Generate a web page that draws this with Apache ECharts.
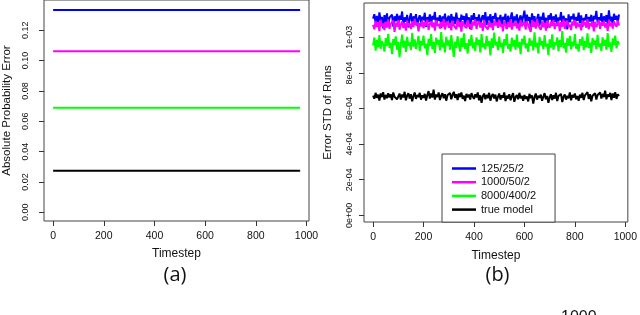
<!DOCTYPE html>
<html>
<head>
<meta charset="utf-8">
<script src="https://cdn.jsdelivr.net/npm/echarts@6/dist/echarts.min.js"></script>
<style>
html,body{margin:0;padding:0;background:#fff;}
#c{width:640px;height:315px;}
</style>
</head>
<body>
<div id="c"></div>
<script>
// ---------- DATA ----------
var seriesNames = ['125/25/2', '1000/50/2', '8000/400/2', 'true model'];
var seriesColors = ['#0000ff', '#ff00ff', '#00ff00', '#000000'];

// panel (a): absolute probability error, constant over timesteps
var timestepsA = [0, 975];
var errA_125 = [0.1333, 0.1333];
var errA_1000 = [0.1061, 0.1061];
var errA_8000 = [0.0689, 0.0689];
var errA_true = [0.0274, 0.0274];

// panel (b): error STD of runs, in units of 1e-6
var timestepsB = [0,5,10,15,20,25,30,35,40,45,50,55,60,65,70,75,80,85,90,95,
  100,105,110,115,120,125,130,135,140,145,150,155,160,165,170,175,180,185,190,195,
  200,205,210,215,220,225,230,235,240,245,250,255,260,265,270,275,280,285,290,295,
  300,305,310,315,320,325,330,335,340,345,350,355,360,365,370,375,380,385,390,395,
  400,405,410,415,420,425,430,435,440,445,450,455,460,465,470,475,480,485,490,495,
  500,505,510,515,520,525,530,535,540,545,550,555,560,565,570,575,580,585,590,595,
  600,605,610,615,620,625,630,635,640,645,650,655,660,665,670,675,680,685,690,695,
  700,705,710,715,720,725,730,735,740,745,750,755,760,765,770,775,780,785,790,795,
  800,805,810,815,820,825,830,835,840,845,850,855,860,865,870,875,880,885,890,895,
  900,905,910,915,920,925,930,935,940,945,950,955,960,965,970,975];
var stdB_125 = [1105,1130,1080,1120,1065,1140,1095,1115,1050,1125,1085,1135,1070,1110,1100,1128,1060,1118,1090,1132,
  1075,1122,1098,1145,1068,1112,1088,1126,1055,1108,1135,1072,1118,1092,1130,1064,1104,1124,1082,1116,
  1096,1138,1058,1114,1086,1129,1070,1120,1100,1142,1066,1110,1094,1124,1052,1117,1089,1133,1078,1106,
  1121,1062,1131,1093,1115,1074,1139,1087,1109,1057,1127,1099,1119,1071,1134,1084,1112,1046,1123,1097,
  1136,1079,1113,1091,1128,1063,1107,1125,1081,1141,1069,1116,1095,1130,1058,1119,1103,1137,1076,1111,
  1090,1126,1067,1114,1098,1132,1048,1121,1085,1108,1140,1073,1117,1094,1129,1061,1105,1123,1083,1115,
  1150,1077,1127,1092,1113,1056,1134,1088,1119,1071,1104,1131,1066,1116,1097,1138,1080,1110,1052,1124,
  1099,1135,1074,1118,1087,1128,1063,1112,1095,1142,1070,1121,1090,1106,1045,1129,1084,1117,1102,1133,
  1068,1115,1093,1139,1078,1123,1059,1109,1096,1130,1072,1114,1089,1126,1060,1120,1101,1148,1082,1113,
  1094,1136,1065,1118,1087,1125,1075,1152,1091,1116,1070,1132,1099,1121,1084,1128];
var stdB_1000 = [1070,1045,1092,1058,1085,1035,1098,1062,1078,1040,1088,1055,1101,1048,1075,1066,1094,1030,1082,1060,
  1097,1043,1072,1089,1052,1080,1038,1095,1064,1077,1047,1090,1057,1103,1068,1084,1033,1079,1061,1093,
  1050,1086,1065,1099,1041,1074,1091,1056,1083,1037,1096,1063,1076,1049,1087,1059,1104,1044,1073,1090,
  1054,1081,1039,1094,1067,1078,1046,1100,1060,1085,1032,1091,1069,1079,1051,1097,1058,1074,1042,1088,
  1066,1102,1048,1077,1092,1055,1083,1036,1098,1063,1071,1045,1089,1057,1080,1040,1095,1067,1084,1053,
  1099,1061,1075,1034,1093,1070,1047,1086,1058,1101,1043,1081,1064,1090,1050,1078,1038,1096,1062,1073,
  1087,1044,1092,1068,1079,1031,1097,1059,1084,1049,1103,1065,1076,1042,1090,1056,1082,1037,1094,1071,
  1053,1088,1063,1098,1046,1080,1067,1091,1035,1085,1060,1100,1048,1077,1093,1057,1072,1041,1089,1066,
  1096,1050,1083,1061,1074,1039,1095,1069,1086,1054,1102,1045,1079,1064,1091,1033,1087,1058,1076,1097,
  1047,1084,1068,1093,1055,1078,1036,1099,1062,1081,1049,1090,1071,1059,1094,1066];
var stdB_8000 = [955,1000,925,985,945,1012,935,978,960,920,995,950,1020,940,970,905,990,958,1005,930,
  975,888,962,1015,942,982,918,1002,952,972,928,1025,948,988,935,968,1008,922,980,956,
  1010,938,965,900,992,950,1018,933,975,912,998,960,985,926,1030,944,970,915,1003,955,
  982,930,1012,948,890,976,940,1006,958,920,995,946,1022,934,968,908,988,952,1014,938,
  972,924,1000,958,986,915,1018,944,966,932,1008,950,980,898,994,940,1026,954,975,928,
  1004,946,970,912,990,955,1020,936,962,920,998,948,984,930,1015,942,974,905,992,960,
  1010,938,966,918,996,952,982,926,1028,944,970,910,1002,956,978,934,1012,948,964,900,
  988,942,1016,930,972,956,1000,922,984,946,1035,938,968,914,994,952,1008,932,976,950,
  1018,936,962,920,990,954,1004,928,980,944,1022,940,970,912,996,958,982,934,1014,948,
  966,924,1000,952,986,930,1024,946,972,918,994,956,1010,938,978,960];
var stdB_true = [672,655,688,660,678,645,684,664,692,650,676,658,686,662,680,648,690,666,674,652,
  668,684,650,678,662,694,646,672,686,656,680,640,670,690,654,676,664,688,650,674,
  660,682,645,676,698,656,684,662,706,650,678,664,690,648,672,686,658,680,644,674,
  666,688,652,676,694,660,680,648,684,664,690,654,672,642,682,662,678,650,686,668,
  654,680,662,690,646,674,632,668,684,652,676,658,688,644,670,682,656,678,640,666,
  684,650,674,660,690,642,672,656,680,646,668,686,638,664,676,652,688,658,670,644,
  676,654,668,640,682,658,674,628,664,684,650,672,660,678,644,666,686,652,670,632,
  662,680,648,674,656,688,642,670,660,682,636,666,678,650,672,658,690,646,676,662,
  684,652,670,644,678,660,688,648,674,664,692,654,680,640,672,662,686,650,676,668,
  690,656,682,664,700,652,678,666,688,648,684,660,692,654,680,670];

// ticks
var xTicks = [0, 200, 400, 600, 800, 1000];
var xTickLabels = ['0', '200', '400', '600', '800', '1000'];
var yTicksA = [0, 0.02, 0.04, 0.06, 0.08, 0.10, 0.12];
var yTickLabelsA = ['0.00', '0.02', '0.04', '0.06', '0.08', '0.10', '0.12'];
var yTicksB = [0, 200, 400, 600, 800, 1000];
var yTickLabelsB = ['0e+00', '2e-04', '4e-04', '6e-04', '8e-04', '1e-03'];

// texts
var xAxisTitle = 'Timestep';
var yTitleA = 'Absolute Probability Error';
var yTitleB = 'Error STD of Runs';
var panelA = '(a)';
var panelB = '(b)';
var fragmentText = '1000';

// ---------- CHART ----------
function pairs(xs, ys) { return xs.map(function (x, i) { return [x, ys[i]]; }); }
function lookup(ticks, labels) {
  return function (v) {
    for (var i = 0; i < ticks.length; i++) { if (Math.abs(ticks[i] - v) < 1e-6) return labels[i]; }
    return '';
  };
}
var FONT = 'Liberation Sans';

function xAxisCfg(idx, nameGap, margin) {
  return {
    type: 'value', gridIndex: idx, min: -36, max: 1010,
    name: xAxisTitle, nameLocation: 'middle', nameGap: nameGap,
    nameTextStyle: { fontFamily: FONT, fontSize: 12, color: '#111' },
    axisLine: { show: false, onZero: false },
    splitLine: { show: false },
    axisTick: { show: true, inside: false, length: 5, customValues: xTicks, lineStyle: { color: '#333' } },
    axisLabel: { customValues: xTicks, fontFamily: FONT, fontSize: 10.5, color: '#111', margin: margin,
      formatter: lookup(xTicks, xTickLabels) }
  };
}

var option = {
  animation: false,
  backgroundColor: '#fff',
  grid: [
    { left: 41, top: -1, width: 268, height: 222, show: true, borderColor: '#444', borderWidth: 1, containLabel: false },
    { left: 364, top: 3, width: 268, height: 219, show: true, borderColor: '#444', borderWidth: 1, containLabel: false }
  ],
  xAxis: [ xAxisCfg(0, 27, 9.5), xAxisCfg(1, 27.5, 10) ],
  yAxis: [
    {
      type: 'value', gridIndex: 0, min: -0.0057, max: 0.13987,
      name: yTitleA, nameLocation: 'middle', nameGap: 31, nameRotate: 90,
      nameTextStyle: { fontFamily: FONT, fontSize: 11.5, color: '#111' },
      axisLine: { show: false, onZero: false }, splitLine: { show: false },
      axisTick: { show: true, inside: false, length: 5, customValues: yTicksA, lineStyle: { color: '#333' } },
      axisLabel: {
        customValues: yTicksA, rotate: 90, fontFamily: FONT, fontSize: 9, color: '#111', margin: 13.5,
        formatter: lookup(yTicksA, yTickLabelsA)
      }
    },
    {
      type: 'value', gridIndex: 1, min: -37.6, max: 1192.7,
      name: yTitleB, nameLocation: 'middle', nameGap: 30, nameRotate: 90,
      nameTextStyle: { fontFamily: FONT, fontSize: 11.5, color: '#111' },
      axisLine: { show: false, onZero: false }, splitLine: { show: false },
      axisTick: { show: true, inside: false, length: 5, customValues: yTicksB, lineStyle: { color: '#333' } },
      axisLabel: {
        customValues: yTicksB, rotate: 90, fontFamily: FONT, fontSize: 9, color: '#111', margin: 10,
        formatter: lookup(yTicksB, yTickLabelsB)
      }
    }
  ],
  legend: {
    show: true,
    data: seriesNames,
    orient: 'vertical',
    left: 442, top: 154,
    padding: [9, 19, 7, 10],
    icon: 'path://M0,0H24V2.5H0Z',
    itemWidth: 24, itemHeight: 12, itemGap: 2.7,
    borderColor: '#444', borderWidth: 1, borderRadius: 0,
    backgroundColor: '#fff',
    textStyle: { fontFamily: FONT, fontSize: 11, color: '#111' },
    selectedMode: false
  },
  graphic: [
    { type: 'text', style: { text: panelA, x: 175, y: 275, align: 'center', verticalAlign: 'middle', font: '20px "Open Sans"', fill: '#111' } },
    { type: 'text', style: { text: panelB, x: 497.5, y: 275, align: 'center', verticalAlign: 'middle', font: '20px "Open Sans"', fill: '#111' } },
    { type: 'text', style: { text: fragmentText, x: 561, y: 310, align: 'left', verticalAlign: 'top', font: '16px "Liberation Sans"', fill: '#111' } }
  ],
  series: []
};

var aData = [errA_125, errA_1000, errA_8000, errA_true];
var bData = [stdB_125, stdB_1000, stdB_8000, stdB_true];
for (var k = 0; k < 4; k++) {
  option.series.push({
    type: 'line', name: seriesNames[k], xAxisIndex: 0, yAxisIndex: 0,
    data: pairs(timestepsA, aData[k]), symbol: 'none', silent: true,
    lineStyle: { color: seriesColors[k], width: 2 }, itemStyle: { color: seriesColors[k] }
  });
}
for (var j = 0; j < 4; j++) {
  option.series.push({
    type: 'line', name: seriesNames[j], xAxisIndex: 1, yAxisIndex: 1,
    data: pairs(timestepsB, bData[j]), symbol: 'none', silent: true,
    lineStyle: { color: seriesColors[j], width: 2 }, itemStyle: { color: seriesColors[j] }
  });
}

var chart = echarts.init(document.getElementById('c'), null, { renderer: 'canvas' });
chart.setOption(option);
</script>
</body>
</html>
